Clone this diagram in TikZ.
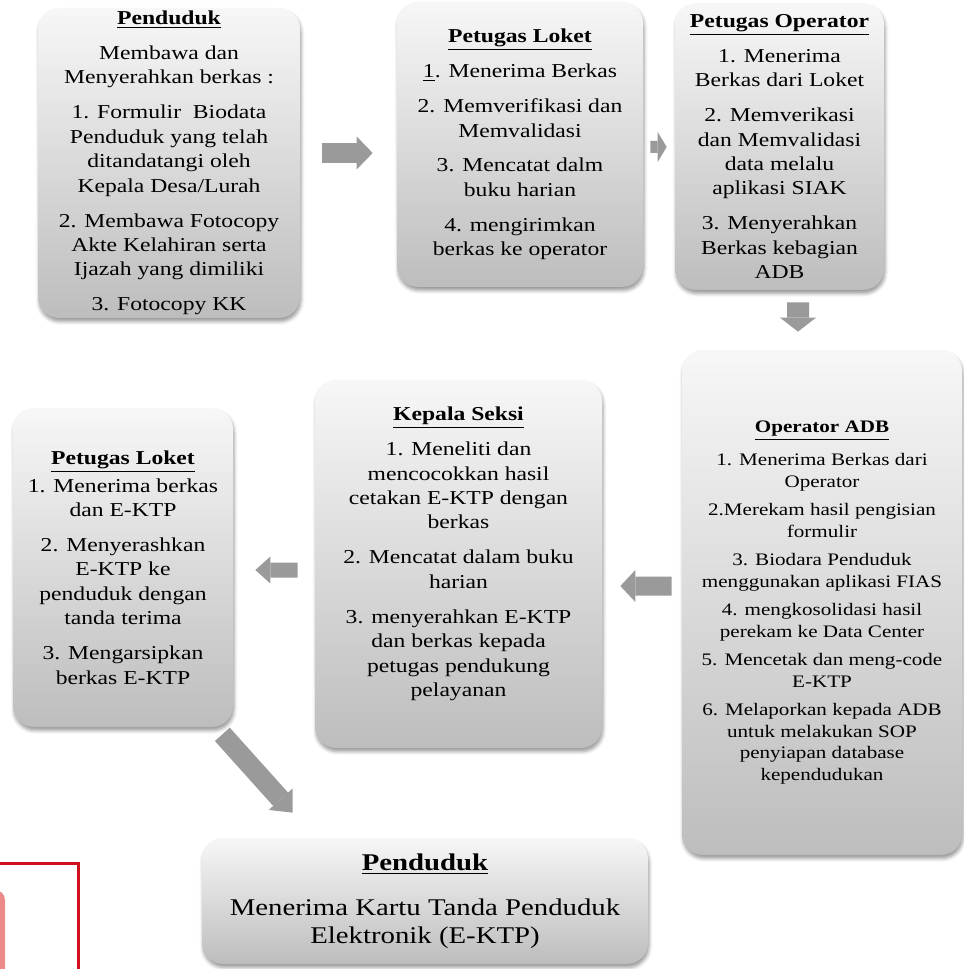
\documentclass[tikz,border=0pt]{standalone}
\usepackage{fontspec}
\setmainfont[FakeStretch=1.2]{Liberation Serif}
\usetikzlibrary{arrows.meta, calc, shadows.blur}
\definecolor{cgreytop}{HTML}{F7F7F7}
\definecolor{cgreybot}{HTML}{BDBDBD}
\definecolor{carrow}{HTML}{9A9A9A}
\definecolor{cred}{HTML}{D0111B}
\definecolor{cpink}{HTML}{EC8A8A}
\tikzset{
  card/.style={rounded corners=0.42cm, top color=cgreytop, bottom color=cgreybot,
    blur shadow={shadow xshift=0.02cm, shadow yshift=-0.07cm, shadow blur radius=0.07cm, shadow opacity=40},
    align=center, inner sep=0pt},
  body/.style={font=\fontsize{11.2pt}{13.9pt}\selectfont},
  small/.style={font=\fontsize{10pt}{12.3pt}\selectfont},
  big/.style={font=\fontsize{13.65pt}{16pt}\selectfont},
  fat/.style n args={3}{draw=carrow, line width=#1, -{Triangle[width=#2, length=#3, line width=0pt 0 0]}},
}
\newcommand{\head}[1]{\underline{\textbf{#1}}}

\begin{document}
\begin{tikzpicture}
  \useasboundingbox (0,0) rectangle (19.28,-19.38);
  \clip (0,0) rectangle (19.28,-19.38);
  % top row
  \node[card, body, minimum width=5.24cm, minimum height=6.2cm] (pdd1) at (3.38,-3.26)
    {\head{Penduduk}\\[6pt]
     Membawa dan\\ Menyerahkan berkas :\\[6pt]
     1. Formulir\ \ Biodata\\ Penduduk yang telah\\ ditandatangi oleh\\ Kepala Desa/Lurah\\[6pt]
     2. Membawa Fotocopy\\ Akte Kelahiran serta\\ Ijazah yang dimiliki\\[6pt]
     3. Fotocopy KK};
  \node[card, body, minimum width=4.92cm, minimum height=5.7cm] (lok1) at (10.4,-2.89)
    {\head{Petugas Loket}\\[6pt]
     \underline{1}. Menerima Berkas\\[6pt]
     2. Memverifikasi dan\\ Memvalidasi\\[6pt]
     3. Mencatat dalm\\ buku harian\\[6pt]
     4. mengirimkan\\ berkas ke operator};
  \node[card, body, minimum width=4.18cm, minimum height=5.74cm] (opr) at (15.59,-2.93)
    {\head{Petugas Operator}\\[6pt]
     1. Menerima\\ Berkas dari Loket\\[6pt]
     2. Memverikasi\\ dan Memvalidasi\\ data melalu\\ aplikasi SIAK\\[6pt]
     3. Menyerahkan\\ Berkas kebagian\\ ADB};
  % second row
  \node[card, small, minimum width=5.6cm, minimum height=10.1cm] (adb) at (16.44,-12.05)
    {\head{Operator ADB}\\[6.6pt]
     1. Menerima Berkas dari\\ Operator\\[3.8pt]
     2.Merekam hasil pengisian\\ formulir\\[3.8pt]
     3. Biodara Penduduk\\ menggunakan aplikasi FIAS\\[3.8pt]
     4. mengkosolidasi hasil\\ perekam ke Data Center\\[3.8pt]
     5. Mencetak dan meng-code\\ E-KTP\\[3.8pt]
     6. Melaporkan kepada ADB\\ untuk melakukan SOP\\ penyiapan database\\ kependudukan};
  \node[card, body, minimum width=5.74cm, minimum height=7.36cm] (kasi) at (9.17,-11.28)
    {\head{Kepala Seksi}\\[6pt]
     1. Meneliti dan\\ mencocokkan hasil\\ cetakan E-KTP dengan\\ berkas\\[6pt]
     2. Mencatat dalam buku\\ harian\\[6pt]
     3. menyerahkan E-KTP\\ dan berkas kepada\\ petugas pendukung\\ pelayanan\\~};
  \node[card, body, minimum width=4.4cm, minimum height=6.38cm] (lok2) at (2.46,-11.35)
    {\head{Petugas Loket}\\[2pt]
     1. Menerima berkas\\ dan E-KTP\\[6pt]
     2. Menyerashkan\\ E-KTP ke\\ penduduk dengan\\ tanda terima\\[6pt]
     3. Mengarsipkan\\ berkas E-KTP};
  % last step
  \node[card, big, minimum width=8.92cm, minimum height=2.52cm] (pdd2) at (8.5,-18.02)
    {\head{Penduduk}\\[9.6pt]
     Menerima Kartu Tanda Penduduk\\ Elektronik (E-KTP)};

  \draw[fat={0.4cm}{0.66cm}{0.32cm}, shorten <=0.44cm, shorten >=0.48cm]
    ([yshift=0.2cm]pdd1.east) -- ([yshift=-0.17cm]lok1.west);
  \draw[fat={0.24cm}{0.6cm}{0.18cm}, shorten <=0.14cm, shorten >=0.16cm]
    ([yshift=-0.05cm]lok1.east) -- ([yshift=-0.01cm]opr.west);
  \draw[fat={0.44cm}{0.72cm}{0.28cm}, shorten <=0.24cm, shorten >=0.36cm]
    ([xshift=0.37cm]opr.south) -- ([xshift=-0.48cm]adb.north);
  \draw[fat={0.38cm}{0.64cm}{0.3cm}, shorten <=0.2cm, shorten >=0.36cm]
    ([yshift=0.33cm]adb.west) -- ([yshift=-0.44cm]kasi.east);
  \draw[fat={0.3cm}{0.54cm}{0.3cm}, shorten <=0.34cm, shorten >=0.44cm]
    ([yshift=-0.12cm]kasi.west) -- ([yshift=-0.05cm]lok2.east);
  \draw[fat={0.4cm}{0.64cm}{0.36cm}]
    ([shift={(-0.22cm,-0.14cm)}]lok2.south east) -- ([shift={(1.82cm,0.5cm)}]pdd2.north west);

  % red frame cut by the lower left edge
  \fill[cpink, rounded corners=0.2cm] (-0.5,-17.8) rectangle (0.1,-19.8);
  \draw[cred, line width=0.06cm] (-0.2,-17.26) rectangle (1.57,-19.8);
\end{tikzpicture}
\end{document}
